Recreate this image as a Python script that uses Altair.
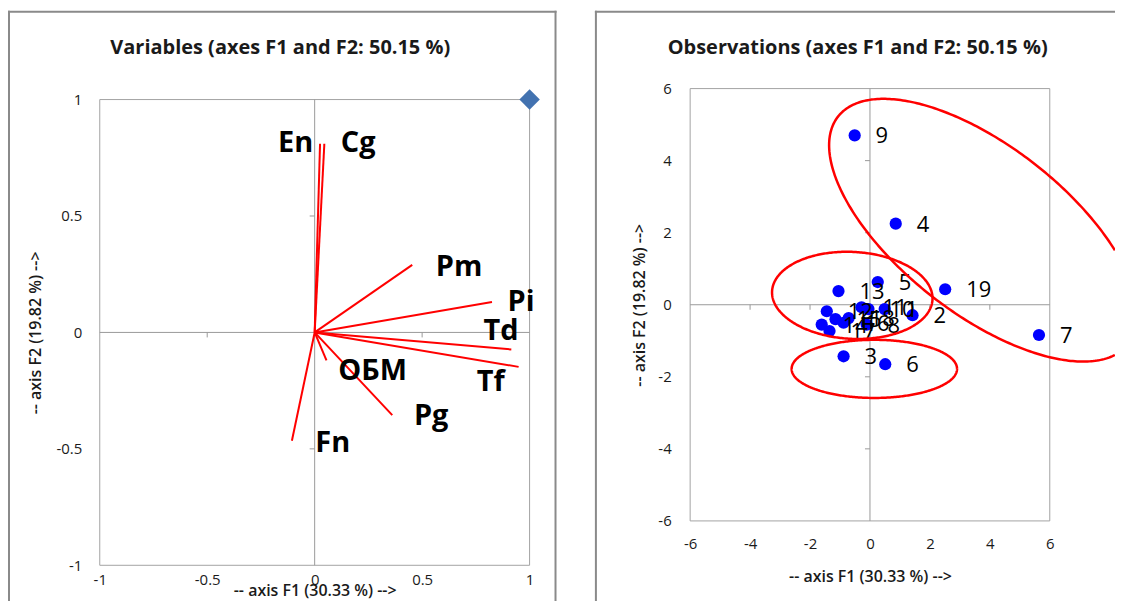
import numpy as np
import pandas as pd
import altair as alt

# ---------------- left panel: variables (loadings on F1 / F2) ----------------
var_names = ["En", "Cg", "Pm", "Pi", "Td", "Tf", "ОБМ", "Pg", "Fn"]
var_f1 = [0.025, 0.045, 0.454, 0.825, 0.915, 0.949, 0.055, 0.361, -0.106]
var_f2 = [0.810, 0.810, 0.290, 0.131, -0.073, -0.148, -0.120, -0.355, -0.465]
# where the (manually placed) labels sit, in axis units
lab_f1 = [-0.089, 0.202, 0.672, 0.960, 0.867, 0.819, 0.270, 0.542, 0.084]
lab_f2 = [0.813, 0.813, 0.279, 0.129, 0.005, -0.211, -0.164, -0.358, -0.476]
corner_f1 = [1.0]
corner_f2 = [1.0]
var_ticks = [-1, -0.5, 0, 0.5, 1]
var_minor = [-0.5, 0.5]

# ---------------- right panel: observations (scores on F1 / F2) ----------------
obs_ids = ["9", "4", "5", "13", "19", "7", "3", "6",
           "12", "11", "10", "1", "2", "14", "16", "8", "18", "17", "15"]
obs_f1 = [-0.51, 0.86, 0.26, -1.05, 2.51, 5.64, -0.88, 0.51,
          -1.44, -0.28, -0.05, 0.49, 1.42, -1.61, -0.88, -0.11, -0.71, -1.35, -1.15]
obs_f2 = [4.70, 2.25, 0.63, 0.38, 0.43, -0.84, -1.43, -1.65,
          -0.18, -0.07, -0.12, -0.12, -0.29, -0.55, -0.50, -0.55, -0.37, -0.73, -0.40]
obs_ticks = [-6, -4, -2, 0, 2, 4, 6]
obs_minor = [-4, -2, 2, 4]

# grouping ellipses: centre (F1, F2), semi-axes in F1 units, tilt in degrees
ell_cx = [3.784, -0.59, 0.146]
ell_cy = [2.069, 0.26, -1.78]
ell_a = [6.156, 2.68, 2.76]
ell_b = [2.795, 1.45, 0.97]
ell_tilt = [-38, -3, 0]

title_left = "Variables (axes F1 and F2: 50.15 %)"
title_right = "Observations (axes F1 and F2: 50.15 %)"
x_title = "-- axis F1 (30.33 %) -->"
y_title = "-- axis F2 (19.82 %) -->"

# ---------------- layout / styling (pixels inside the drawing) ----------------
FONT = "Open Sans"
RED = "#FF0000"
BLUE = "#0000FF"
DIAMOND = "#4272B0"
GRID = "#9a9a9a"
FRAME = "#a3a3a3"
BORDER = "#8a8a8a"
TXT = "#1a1a1a"
VIEW_W, VIEW_H = 1110, 593
LX0, LX1, LY0, LY1 = 92, 523, 91, 558          # left plot frame
RX0, RX1, RY0, RY1 = 684, 1044.6, 80, 513.5    # right plot frame
HYPHEN = "replace(datum.label, '\u2212', '-')"

XL = alt.Scale(domain=[-1, 1], range=[LX0, LX1], nice=False, zero=False)
YL = alt.Scale(domain=[-1, 1], range=[LY1, LY0], nice=False, zero=False)
XR = alt.Scale(domain=[-6, 6], range=[RX0, RX1], nice=False, zero=False)
YR = alt.Scale(domain=[-6, 6], range=[RY1, RY0], nice=False, zero=False)


def lx(p):
    return -1 + 2 * (p - LX0) / (LX1 - LX0)


def ly(p):
    return -1 + 2 * (LY1 - p) / (LY1 - LY0)


def rx(p):
    return -6 + 12 * (p - RX0) / (RX1 - RX0)


def ry(p):
    return -6 + 12 * (RY1 - p) / (RY1 - RY0)


def ax_x(values, offset, lab_pad, title_pad):
    return alt.Axis(title=x_title, orient="bottom", offset=offset, values=values,
                    format="~g", labelExpr=HYPHEN, grid=False, ticks=False, tickSize=0,
                    domain=False, labelFlush=False, labelOverlap=False,
                    labelPadding=lab_pad, titlePadding=title_pad)


def ax_y(values, offset, lab_pad, title_pad):
    return alt.Axis(title=y_title, orient="left", offset=offset, values=values,
                    format="~g", labelExpr=HYPHEN, grid=False, ticks=False, tickSize=0,
                    domain=False, labelFlush=False, labelOverlap=False,
                    labelPadding=lab_pad, titlePadding=title_pad)


def X(field, scale, axis=None):
    return alt.X(field, type="quantitative", scale=scale, axis=axis)


def Y(field, scale, axis=None):
    return alt.Y(field, type="quantitative", scale=scale, axis=axis)


def panel_frame(xs, ys, lo, hi, minor):
    """plot frame, crossing zero lines and their small tick marks"""
    f = pd.DataFrame({"a": [lo], "b": [hi], "z": [0.0]})
    frame = alt.Chart(f).mark_rect(filled=False, color=FRAME, strokeWidth=1).encode(
        x=X("a", xs), x2="b", y=Y("a", ys), y2="b")
    hz = alt.Chart(f).mark_rule(color=GRID, strokeWidth=1).encode(
        x=X("a", xs), x2="b", y=Y("z", ys))
    vz = alt.Chart(f).mark_rule(color=GRID, strokeWidth=1).encode(
        x=X("z", xs), y=Y("a", ys), y2="b")
    mt = pd.DataFrame({"t": minor, "z": [0.0] * len(minor)})
    tx = alt.Chart(mt).mark_rule(color=GRID, y2Offset=5).encode(
        x=X("t", xs), y=Y("z", ys), y2="z")
    ty = alt.Chart(mt).mark_rule(color=GRID, x2Offset=-5).encode(
        y=Y("t", ys), x=X("z", xs), x2="z")
    return [frame, hz, vz, tx, ty]


def border(xs, ys, fx, fy, left, top, right, bottom, with_right):
    """outer grey border of a panel (pixel edges converted to axis units)"""
    xsv = [fx(left)] + ([fx(right)] if with_right else [])
    vert = pd.DataFrame({"x": xsv, "y": [fy(top - 1)] * len(xsv), "y2": [fy(bottom)] * len(xsv)})
    hor = pd.DataFrame({"x": [fx(left - 1)], "x2": [fx(right + 1)], "y": [fy(top)]})
    v = alt.Chart(vert).mark_rule(color=BORDER, strokeWidth=2).encode(
        x=X("x", xs), y=Y("y", ys), y2="y2")
    h = alt.Chart(hor).mark_rule(color=BORDER, strokeWidth=2).encode(
        x=X("x", xs), x2="x2", y=Y("y", ys))
    return [v, h]


def heading(xs, ys, fx, fy, text, px, py):
    d = pd.DataFrame({"x": [fx(px)], "y": [fy(py)], "t": [text]})
    return alt.Chart(d).mark_text(font=FONT, fontSize=20, fontWeight="bold", color=TXT,
                                  align="center", baseline="middle").encode(
        x=X("x", xs), y=Y("y", ys), text="t:N")


# ---------------- left panel ----------------
vdf = pd.DataFrame({"name": var_names, "f1": var_f1, "f2": var_f2,
                    "lx": lab_f1, "ly": lab_f2, "o": [0.0] * len(var_names)})
cdf = pd.DataFrame({"f1": corner_f1, "f2": corner_f2})

vectors = alt.Chart(vdf).mark_rule(color=RED, strokeWidth=2).encode(
    x=X("o", XL, ax_x(var_ticks, LY1 - VIEW_H, 7, -5)),
    y=Y("o", YL, ax_y(var_ticks, -LX0, 18, 12)),
    x2="f1:Q", y2="f2:Q")
vlabels = alt.Chart(vdf).mark_text(font=FONT, fontSize=29, fontWeight="bold", color="#000",
                                   align="center", baseline="middle").encode(
    x=X("lx", XL), y=Y("ly", YL), text="name:N")
corner = alt.Chart(cdf).mark_point(shape="diamond", size=420, filled=True, opacity=1,
                                   color=DIAMOND).encode(x=X("f1", XL), y=Y("f2", YL))

left_layers = (border(XL, YL, lx, ly, 1, 3, 549, VIEW_H + 6, True)
               + panel_frame(XL, YL, -1, 1, var_minor)
               + [vectors, vlabels, corner,
                  heading(XL, YL, lx, ly, title_left, 273, 39)])

# ---------------- right panel ----------------
odf = pd.DataFrame({"id": obs_ids, "f1": obs_f1, "f2": obs_f2})

K = ((RY1 - RY0) / 12.0) / ((RX1 - RX0) / 12.0)
X_CUT = rx(VIEW_W)
rows = []
for e in range(len(ell_cx)):
    t = np.linspace(0, 2 * np.pi, 361)
    phi = np.radians(ell_tilt[e])
    u = ell_a[e] * np.cos(t) * np.cos(phi) - ell_b[e] * np.sin(t) * np.sin(phi)
    v = ell_a[e] * np.cos(t) * np.sin(phi) + ell_b[e] * np.sin(t) * np.cos(phi)
    ex = ell_cx[e] + u
    ey = ell_cy[e] + v / K
    if ex.max() > X_CUT:
        ex, ey = ex[:-1], ey[:-1]
        s = int(np.argmax(ex))
        ex, ey = np.roll(ex, -s), np.roll(ey, -s)
        keep = ex <= X_CUT
        ex, ey = ex[keep], ey[keep]
    for i, (a, b) in enumerate(zip(ex, ey)):
        rows.append({"e": e, "i": i, "x": float(a), "y": float(b)})
edf = pd.DataFrame(rows)

points = alt.Chart(odf).mark_circle(size=150, color=BLUE, opacity=1).encode(
    x=X("f1", XR, ax_x(obs_ticks, RY1 - VIEW_H, 16, 16.5)),
    y=Y("f2", YR, ax_y(obs_ticks, -RX0, 19, 10.5)))
plabels = alt.Chart(odf).mark_text(font=FONT, fontSize=22, color="#000", align="left",
                                   baseline="middle", dx=21, dy=1).encode(
    x=X("f1", XR), y=Y("f2", YR), text="id:N")
ellipses = alt.Chart(edf).mark_line(color=RED, strokeWidth=2.5).encode(
    x=X("x", XR), y=Y("y", YR), detail="e:N", order="i:Q")

right_layers = (border(XR, YR, rx, ry, 589.5, 3, VIEW_W + 4, VIEW_H + 6, False)
                + panel_frame(XR, YR, -6, 6, obs_minor)
                + [points, plabels, ellipses,
                   heading(XR, YR, rx, ry, title_right, 852, 39)])

chart = alt.layer(*left_layers, *right_layers).resolve_scale(
    x="independent", y="independent"
).properties(
    width=VIEW_W, height=VIEW_H, padding=0, background="white",
    autosize=alt.AutoSizeParams(type="none"),
).configure_view(
    strokeWidth=0,
).configure_axis(
    labelFont=FONT, labelFontSize=15, labelColor=TXT,
    titleFont=FONT, titleFontSize=16, titleFontWeight=600, titleColor=TXT,
)

chart.save("out.html", embed_options={"renderer": "svg", "actions": False})
